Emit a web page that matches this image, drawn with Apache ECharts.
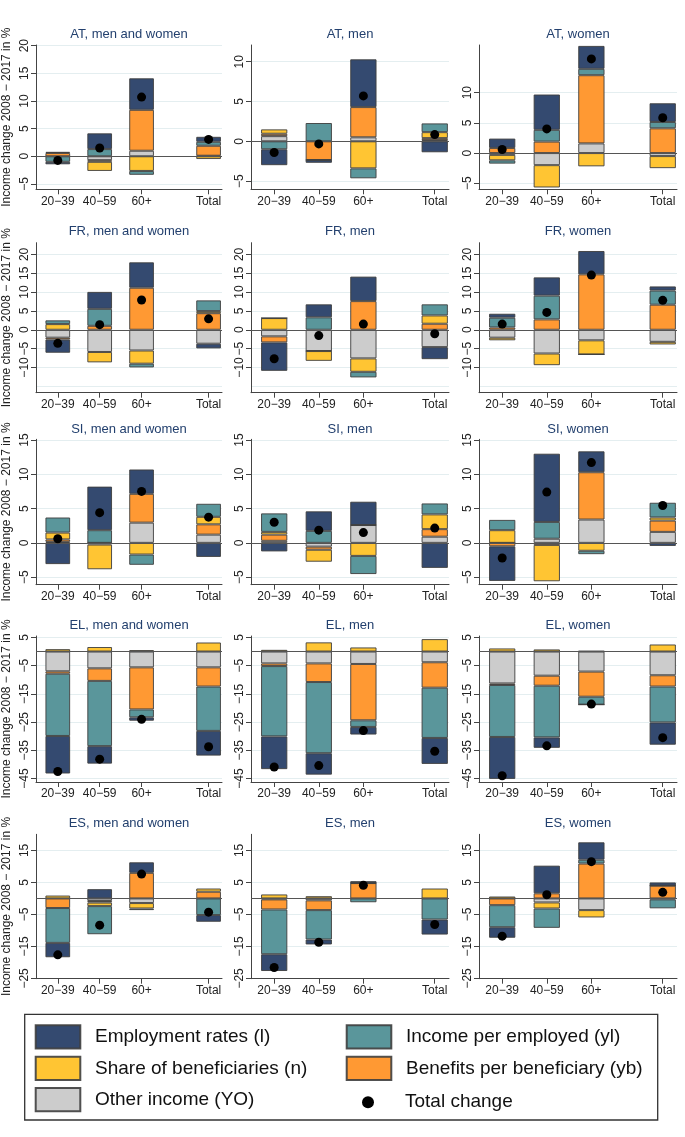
<!DOCTYPE html>
<html><head><meta charset="utf-8">
<script src="https://cdn.jsdelivr.net/npm/echarts@6/dist/echarts.min.js"></script>
<style>html,body{margin:0;padding:0;background:#fff}#c{width:685px;height:1137px}</style>
</head><body><div id="c"></div>
<script>
// ---------- DATA ----------
const panelTitles = [
  'AT, men and women', 'AT, men', 'AT, women',
  'FR, men and women', 'FR, men', 'FR, women',
  'SI, men and women', 'SI, men', 'SI, women',
  'EL, men and women', 'EL, men', 'EL, women',
  'ES, men and women', 'ES, men', 'ES, women'
];
const ageGroups = ['20\u221239', '40\u221259', '60+', 'Total'];

// each row: [20-39, 40-59, 60+, Total]
const otherIncome = [
  [0, -0.7, 1.0, 0.1], [0.65, 0, 0.5, 0.15], [-0.3, -2.0, 1.6, -0.5],
  [-2.1, -5.9, -5.5, -3.7], [-1.75, -5.65, -7.6, -4.6], [-2.1, -6.3, -2.8, -3.2],
  [0.15, 0, 2.95, 1.2], [0.3, -0.55, 2.6, 0.9], [0, 0.6, 3.4, 1.6],
  [-7.0, -5.95, -5.6, -5.6], [-4.2, -4.2, -4.4, -3.8], [-11.3, -8.55, -7.1, -8.4],
  [0, -0.8, -1.45, 0], [-0.3, -0.6, 0, 0], [0, -1.25, -3.65, -0.3]
];
const benefitsPerBeneficiary = [
  [0.6, -0.3, 7.4, 1.8], [0.3, -2.35, 3.8, 0.25], [0.85, 1.9, 11.3, 4.1],
  [-0.5, 1.05, 11.15, 4.4], [-1.6, 0, 7.6, 1.6], [0.6, 2.75, 14.7, 6.65],
  [0.35, -0.25, 4.2, 1.5], [0.9, -0.45, 0, 1.1], [-0.5, -0.3, 6.9, 1.65],
  [-0.85, -4.45, -14.9, -6.8], [-0.95, -6.6, -19.95, -9.0], [-0.55, -3.55, -8.9, -4.0],
  [-3.0, -0.5, 8.0, 2.1], [-3.15, -3.05, 4.8, 0], [-2.1, 1.6, 10.9, 4.0]
];
const shareBeneficiaries = [
  [0.2, -1.65, -2.65, -0.5], [0.55, 0, -3.4, 0.75], [-0.9, -3.7, -2.2, -2.0],
  [1.5, -2.75, -3.5, 0.55], [3.1, -2.6, -3.55, 2.2], [-0.7, -3.1, -3.75, -0.7],
  [1.0, -3.6, -1.7, 1.1], [0.4, -1.75, -1.9, 2.15], [1.85, -5.3, -1.15, 0.45],
  [0.85, 1.6, 0.5, 3.2], [0.6, 3.25, 1.45, 4.4], [1.1, 0.75, 0.2, 2.5],
  [0.9, -1.1, -1.7, 1.0], [1.25, 0.7, 0, 3.1], [0.6, -1.9, -2.3, 0]
];
const incomePerEmployed = [
  [-1.0, 1.3, -0.7, 0.72], [-1.0, 2.3, -1.25, 1.1], [-0.55, 1.95, 1.05, 1.05],
  [1.0, 4.5, -1.0, 2.85], [0, 3.3, -1.5, 2.95], [2.6, 6.3, 0, 3.75],
  [2.2, 1.85, -1.5, 1.9], [2.7, 1.75, -2.65, 1.6], [1.5, 2.45, -0.5, 2.15],
  [-22.05, -23.1, -2.8, -15.7], [-24.9, -25.2, -2.35, -17.8], [-18.4, -18.3, -2.8, -12.7],
  [-10.9, -8.8, -0.5, -5.2], [-14.0, -9.2, -1.2, -6.6], [-6.9, -6.05, 1.2, -2.8]
];
const employment = [
  [-0.45, 2.85, 5.7, 0.9], [-2.0, -0.35, 6.0, -1.38], [1.55, 5.85, 3.8, 3.1],
  [-3.5, 4.5, 6.75, -1.25], [-7.55, 3.45, 6.5, -3.2], [1.05, 4.85, 6.2, 1.1],
  [-3.1, 6.35, 3.55, -2.05], [-1.25, 2.85, 3.4, -3.65], [-5.05, 9.95, 3.05, -0.45],
  [-13.3, -6.2, -1.2, -8.75], [-11.6, -7.6, -2.7, -9.2], [-14.85, -3.7, 0, -7.9],
  [-4.5, 2.9, 3.3, -2.1], [-5.25, -1.55, 0.6, -4.7], [-3.3, 8.65, 5.45, 1.0]
];
const totalChange = [
  [-0.75, 1.5, 10.7, 3.05], [-1.4, -0.33, 5.7, 0.84], [0.6, 4.0, 15.6, 5.85],
  [-3.6, 1.35, 7.9, 2.9], [-7.7, -1.55, 1.5, -1.05], [1.5, 4.6, 14.5, 7.8],
  [0.6, 4.4, 7.5, 3.75], [3.0, 1.85, 1.5, 2.15], [-2.2, 7.4, 11.7, 5.45],
  [-42.5, -38.1, -24.0, -33.7], [-40.9, -40.4, -28.0, -35.3], [-44.0, -33.4, -18.6, -30.5],
  [-17.65, -8.35, 7.6, -4.3], [-21.6, -13.7, 4.1, -8.15], [-11.8, 1.15, 11.5, 1.9]
];
// y-axis tick labels per panel
const yTickLabels = [
  [-5, 0, 5, 10, 15, 20], [-5, 0, 5, 10], [-5, 0, 5, 10],
  [-15, -10, -5, 0, 5, 10, 15, 20], [-15, -10, -5, 0, 5, 10, 15, 20], [-15, -10, -5, 0, 5, 10, 15, 20],
  [-5, 0, 5, 10, 15], [-5, 0, 5, 10, 15], [-5, 0, 5, 10, 15],
  [-45, -35, -25, -15, -5, 5], [-45, -35, -25, -15, -5, 5], [-45, -35, -25, -15, -5, 5],
  [-25, -15, -5, 5, 15], [-25, -15, -5, 5, 15], [-25, -15, -5, 5, 15]
];
const yAxisTitle = 'Income change 2008 \u2212 2017 in %';

// ---------- LAYOUT ----------
const yRange = [
  [-5.97, 20.12], [-6.03, 12.1], [-6.0, 17.9],
  [-16.7, 23.1], [-16.7, 23.1], [-16.7, 23.1],
  [-6.1, 15.1], [-6.1, 15.1], [-6.1, 15.1],
  [-46.2, 5.5], [-46.2, 5.5], [-46.2, 5.5],
  [-25.1, 20.05], [-25.1, 20.05], [-25.1, 20.05]
];
const colLeft = [36, 251, 479], colWidth = [186, 198, 198];
const rowTop = [45, 242.7, 439.3, 636, 834.3], rowBottom = [189.3, 392.7, 584.7, 782, 978.7];
const titleY = [35, 232.7, 430, 626.7, 824];
const catPos = [1, 2, 3, 4.6];
const xMin = 0.48, xMax = 4.92;
const FONT = '"Liberation Sans", Arial, Helvetica, sans-serif';
const BORDER = 'rgba(62,62,62,0.9)';

const comps = [
  { name: 'Other income (YO)', data: otherIncome, color: '#cccccc' },
  { name: 'Benefits per beneficiary (yb)', data: benefitsPerBeneficiary, color: '#ff9933' },
  { name: 'Share of beneficiaries (n)', data: shareBeneficiaries, color: '#ffc533' },
  { name: 'Income per employed (yl)', data: incomePerEmployed, color: '#5a969b' },
  { name: 'Employment rates (l)', data: employment, color: '#344a70' }
];
const minus = v => String(v).replace('-', '\u2212');

const grids = [], xAxes = [], yAxes = [], series = [], titles = [];
panelTitles.forEach((t, i) => {
  const r = Math.floor(i / 3), c = i % 3;
  grids.push({ left: colLeft[c], top: rowTop[r], width: colWidth[c], height: rowBottom[r] - rowTop[r], containLabel: false });
  titles.push({
    text: t, left: colLeft[c] + colWidth[c] / 2, top: titleY[r] - 7.5, textAlign: 'center', padding: 0,
    textStyle: { fontSize: 13, fontWeight: 'normal', color: '#23406e', fontFamily: FONT }
  });
  xAxes.push({
    gridIndex: i, type: 'value', min: xMin, max: xMax,
    axisLine: { onZero: false, lineStyle: { color: '#444', width: 1 } },
    axisTick: { customValues: catPos, length: 5, lineStyle: { color: '#444' } },
    axisLabel: { customValues: catPos, formatter: v => ageGroups[catPos.indexOf(v)], fontSize: 12, color: '#222', margin: 6, fontFamily: FONT },
    splitLine: { show: false }
  });
  yAxes.push({
    gridIndex: i, type: 'value', min: yRange[i][0], max: yRange[i][1],
    name: c === 0 ? yAxisTitle : '', nameLocation: 'middle', nameRotate: 90, nameGap: 23,
    nameTextStyle: { fontSize: 12, color: '#222', fontFamily: FONT },
    axisLine: { show: true, lineStyle: { color: '#444', width: 1 } },
    axisTick: { show: true, customValues: yTickLabels[i], length: 5, lineStyle: { color: '#444' } },
    axisLabel: { customValues: yTickLabels[i], rotate: 90, formatter: minus, fontSize: 12, color: '#222', margin: 5, fontFamily: FONT },
    splitLine: { show: true, lineStyle: { color: '#e4eef0', width: 1 } }
  });
  const bw = 0.59 * colWidth[c] / (xMax - xMin);
  comps.forEach(cp => {
    // value first, position second, so the value dimension is the one stacked
    series.push({
      type: 'bar', name: cp.name, stack: 'p' + i, xAxisIndex: i, yAxisIndex: i,
      barWidth: bw,
      encode: { x: 1, y: 0 },
      data: catPos.map((x, k) => [cp.data[i][k], x]),
      itemStyle: { color: cp.color, borderColor: BORDER, borderWidth: 1 }
    });
  });
  series.push({
    type: 'scatter', name: 'Total change', xAxisIndex: i, yAxisIndex: i, z: 10,
    symbol: 'circle', symbolSize: 9,
    data: catPos.map((x, k) => [x, totalChange[i][k]]),
    itemStyle: { color: '#000', opacity: 1 },
    markLine: {
      silent: true, symbol: 'none', label: { show: false },
      lineStyle: { color: '#555', width: 1, type: 'solid' },
      data: [{ yAxis: 0 }]
    }
  });
});

// legend entries
const legendPos = [
  ['Employment rates (l)', 34.7, 1024.3, 'rect'],
  ['Income per employed (yl)', 345.7, 1024.3, 'rect'],
  ['Share of beneficiaries (n)', 34.7, 1055.7, 'rect'],
  ['Benefits per beneficiary (yb)', 345.7, 1055.7, 'rect'],
  ['Other income (YO)', 34.7, 1087, 'rect']
];
const legends = legendPos.map(([n, x, y, ic]) => ({
  data: [{ name: n, icon: ic }], left: x, top: y, padding: 0, selectedMode: false,
  itemWidth: 44.6, itemHeight: 23.3,
  textStyle: { fontSize: 19, color: '#111', fontFamily: FONT, padding: [0, 0, 0, 9.7] }
}));
legends.push({
  data: [{ name: 'Total change', icon: 'circle', itemStyle: { color: '#000', opacity: 1 } }],
  left: 362, top: 1092.65, padding: 0, selectedMode: false,
  itemWidth: 12, itemHeight: 12,
  textStyle: { fontSize: 19, color: '#111', fontFamily: FONT, padding: [0, 0, 0, 26] }
});

const chart = echarts.init(document.getElementById('c'), null, { renderer: 'canvas' });
chart.setOption({
  animation: false,
  backgroundColor: '#fff',
  title: titles,
  grid: grids, xAxis: xAxes, yAxis: yAxes, series: series,
  legend: legends,
  graphic: [{
    type: 'rect', shape: { x: 24.7, y: 1014.3, width: 633, height: 105.7 },
    style: { fill: 'none', stroke: '#333', lineWidth: 1.3 }, silent: true
  }]
});
</script></body></html>
